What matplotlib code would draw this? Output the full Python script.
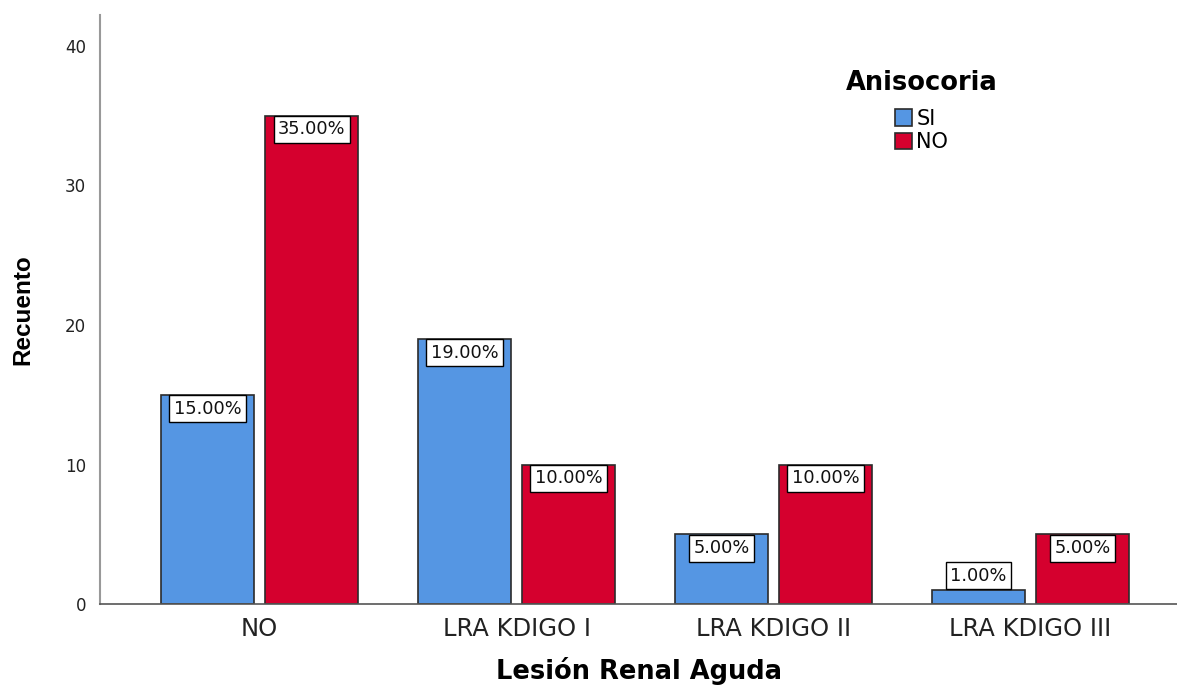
import numpy as np
import matplotlib.pyplot as plt

categorias = ["NO", "LRA KDIGO I", "LRA KDIGO II", "LRA KDIGO III"]
si = [15, 19, 5, 1]
no = [35, 10, 10, 5]
total = sum(si) + sum(no)

azul = "#5596e3"
rojo = "#d5002e"

plt.rcParams['font.family'] = ['DejaVu Sans']

fig = plt.figure(figsize=(11.77, 6.88), dpi=100)
ax = fig.add_axes([0.085, 0.122, 0.915, 0.856])

x = np.arange(len(categorias))
ancho = 0.363
desp = 0.203

b1 = ax.bar(x - desp, si, ancho, color=azul, edgecolor="#2b2b2b", linewidth=1.2, label="SI")
b2 = ax.bar(x + desp, no, ancho, color=rojo, edgecolor="#2b2b2b", linewidth=1.2, label="NO")

# etiquetas de porcentaje en cajas blancas
caja = dict(boxstyle="square,pad=0.25", fc="white", ec="black", lw=1)
for barras, vals in [(b1, si), (b2, no)]:
    for b, v in zip(barras, vals):
        txt = f"{v / total * 100:.2f}%"
        cx = b.get_x() + b.get_width() / 2
        if v >= 3:
            ax.annotate(txt, (cx, v), xytext=(0, -3.5), textcoords="offset points",
                        ha="center", va="top", fontsize=12.8, color="#111111", bbox=caja)
        else:
            ax.annotate(txt, (cx, v), xytext=(0, 3.8), textcoords="offset points",
                        ha="center", va="bottom", fontsize=12.8, color="#111111", bbox=caja)

ax.set_xlim(-0.621, 3.57)
ax.set_ylim(0, 42.2)
ax.set_yticks([0, 10, 20, 30, 40])
ax.set_xticks(x)
ax.set_xticklabels(categorias, fontsize=17.5, color="#222222")
ax.tick_params(axis="y", labelsize=12, length=0, pad=10, colors="#222222")
ax.tick_params(axis="x", length=0, pad=9)

for s in ["top", "right"]:
    ax.spines[s].set_visible(False)
ax.spines["left"].set_color("#999999")
ax.spines["left"].set_linewidth(1.5)
ax.spines["bottom"].set_color("#555555")
ax.spines["bottom"].set_linewidth(1.2)

ax.set_xlabel("Lesión Renal Aguda", fontsize=18.5, fontweight="bold", labelpad=12)
ax.set_ylabel("Recuento", fontsize=17.5, fontweight="bold", labelpad=22,
              family=['Liberation Sans Narrow', 'Liberation Sans', 'DejaVu Sans'])

leg = ax.legend(title="Anisocoria", loc="upper center", bbox_to_anchor=(0.763, 0.924),
                frameon=False, fontsize=15, handlelength=0.82, handleheight=0.82,
                handletextpad=0.2, labelspacing=0.15, borderpad=0,
                title_fontproperties={"weight": "bold", "size": 18.5})
leg._legend_box.sep = 9

plt.savefig("out.png", dpi=100)
